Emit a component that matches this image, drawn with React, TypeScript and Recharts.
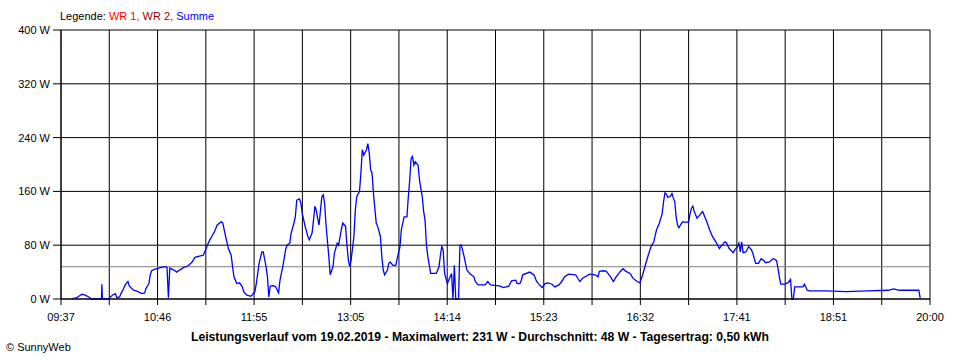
import React from 'react';
import { LineChart, Line, XAxis, YAxis, CartesianGrid, ReferenceLine } from 'recharts';

const times: string[] = [
  '09:45','09:47','09:49','09:52','09:54','09:57','09:59','10:06','10:06:20','10:06:40','10:11','10:12','10:14','10:16','10:17','10:19','10:20','10:22','10:23','10:25',
  '10:26','10:29','10:31','10:35','10:37','10:38','10:40','10:41','10:42','10:44','10:47','10:49','10:52','10:53','10:54','10:55','10:58','11:00','11:02','11:05',
  '11:08','11:11','11:13','11:17','11:19','11:21','11:23','11:25','11:27','11:29','11:32','11:33','11:35','11:37','11:39','11:40','11:41','11:43','11:45','11:47',
  '11:48','11:50','11:53','11:54','11:56','11:57','11:59','12:01','12:02','12:04','12:05','12:06','12:07','12:09','12:11','12:13','12:14','12:16','12:18','12:19',
  '12:21','12:22','12:24','12:25','12:26','12:28','12:29','12:30','12:32','12:34','12:35','12:37','12:38','12:39','12:40','12:41','12:42','12:44','12:45','12:46',
  '12:47','12:49','12:50','12:52','12:53','12:55','12:56','12:58','12:59','13:01','13:02','13:03','13:04','13:05','13:07','13:08','13:09','13:11','13:12','13:13',
  '13:14','13:16','13:17','13:18','13:19','13:20','13:21','13:23','13:24','13:26','13:27','13:28','13:29','13:31','13:32','13:33','13:35','13:37','13:38','13:40',
  '13:41','13:43','13:45','13:46','13:47','13:48','13:49','13:50','13:51','13:53','13:54','13:56','13:57','13:58','13:59','14:00','14:02','14:06','14:08','14:09',
  '14:10','14:11','14:12','14:14','14:16','14:17','14:18','14:19','14:20','14:22','14:23','14:24','14:26','14:28','14:30','14:33','14:34','14:36','14:41','14:43',
  '14:45','14:52','14:54','14:58','14:59','15:00','15:03','15:04','15:06','15:07','15:08','15:13','15:16','15:18','15:20','15:22','15:24','15:26','15:29','15:31',
  '15:34','15:36','15:38','15:41','15:46','15:48','15:49','15:51','15:56','16:00','16:02','16:03','16:06','16:08','16:11','16:13','16:15','16:18','16:20','16:22',
  '16:25','16:27','16:30','16:32','16:34','16:36','16:38','16:40','16:42','16:43','16:44','16:46','16:48','16:49','16:50','16:51','16:52','16:54','16:55','16:56',
  '16:57','16:58','16:59','17:00','17:02','17:03','17:05','17:07','17:08','17:09','17:10','17:11','17:13','17:15','17:17','17:18','17:20','17:22','17:24','17:27',
  '17:29','17:30','17:33','17:34','17:36','17:39','17:40','17:42','17:43','17:44','17:45','17:46','17:48','17:50','17:52','17:53','17:55','17:57','17:59','18:01',
  '18:02','18:05','18:07','18:08','18:10','18:11','18:12','18:13','18:16','18:18','18:20','18:21','18:22','18:23','18:29','18:30','18:32','18:34','18:45','19:00',
  '19:15','19:30','19:34','19:38','19:52','19:53',
];

const watts: number[] = [
  1,1,3,7,6,3,0,0,22,0,0,2,6,8,2,3,8,16,21,26,
  19,13,12,8,9,16,23,36,42,44,46,47,48,47,2,46,43,40,43,47,
  49,55,62,64,65,75,85,93,100,110,115,113,93,75,65,48,33,23,24,18,
  11,6,4,6,11,23,53,70,70,48,33,3,19,20,18,9,28,48,73,80,
  83,98,113,122,147,149,142,127,108,93,88,98,117,138,132,120,110,152,155,142,
  110,63,36,48,68,83,80,103,113,108,80,58,48,58,93,132,152,160,187,222,
  214,222,231,217,192,187,157,113,108,93,63,43,36,43,53,55,50,50,60,78,
  103,122,122,152,177,209,212,199,204,199,177,152,130,117,80,63,38,38,48,65,
  78,73,38,23,33,38,0,50,0,0,80,80,63,43,38,33,26,21,21,26,
  21,19,17,19,23,27,28,23,23,28,36,40,36,26,21,17,23,24,22,18,
  21,26,33,37,36,29,26,31,37,36,33,41,42,41,33,26,33,41,45,41,
  38,31,26,24,36,51,65,78,85,95,103,113,127,145,158,156,151,153,157,150,
  145,122,110,106,113,115,114,115,127,135,138,130,120,125,130,125,115,103,93,83,
  75,78,85,84,75,69,73,78,83,70,85,69,70,78,73,68,53,53,60,57,
  54,55,59,60,57,46,33,22,22,24,29,0,0,18,18,22,13,12,12,11,
  12,13,15,13,13,1,
];

const yTicks: number[] = [0, 80, 160, 240, 320, 400];
const tickLabels: string[] = ['09:37', '', '10:46', '', '11:55', '', '13:05', '', '14:14', '', '15:23', '', '16:32', '', '17:41', '', '18:51', '', '20:00'];
const averageW = 48;
const startLabel = '09:37';
const endLabel = '20:00';

const legendParts: { text: string; color: string }[] = [
  { text: 'Legende: ', color: '#000000' },
  { text: 'WR 1, ', color: '#ff0000' },
  { text: 'WR 2, ', color: '#9b0000' },
  { text: 'Summe', color: '#0000ff' },
];
const titleText = 'Leistungsverlauf vom 19.02.2019 - Maximalwert: 231 W - Durchschnitt: 48 W - Tagesertrag: 0,50 kWh';
const copyrightText = '\u00A9 SunnyWeb';

const toMin = (s: string): number => {
  const p = s.split(':').map(Number);
  return p[0] * 60 + p[1] + (p[2] ? p[2] / 60 : 0);
};

const data = times.map((t, i) => ({ t: toMin(t), w: watts[i] }));
const tMin = toMin(startLabel);
const tMax = toMin(endLabel);
const xTicks = tickLabels.map((_, i) => tMin + (i * (tMax - tMin)) / (tickLabels.length - 1));

const FONT = '"Liberation Sans", Arial, sans-serif';

export default function App() {
  return (
    <div style={{ position: 'absolute', left: 0, top: 0, width: 960, height: 360, background: '#fff' }}>
      <LineChart width={960} height={360} data={data} margin={{ top: 30, right: 30, bottom: 0, left: 0 }}>
        <CartesianGrid stroke="#000" strokeWidth={1} />
        <XAxis
          type="number"
          dataKey="t"
          domain={[tMin, tMax]}
          ticks={xTicks}
          interval={0}
          height={61}
          tickSize={6}
          tickMargin={8}
          axisLine={{ stroke: '#000' }}
          tickLine={{ stroke: '#000' }}
          tick={{ fill: '#000', fontSize: 11, fontFamily: FONT }}
          tickFormatter={(v: number) => {
            const idx = xTicks.findIndex((x) => Math.abs(x - v) < 0.01);
            return idx >= 0 ? tickLabels[idx] : '';
          }}
          allowDataOverflow
        />
        <YAxis
          type="number"
          domain={[0, 400]}
          ticks={yTicks}
          width={61}
          tickSize={8}
          tickMargin={3}
          axisLine={{ stroke: '#000' }}
          tickLine={{ stroke: '#000' }}
          tick={{ fill: '#000', fontSize: 11, fontFamily: FONT }}
          tickFormatter={(v: number) => `${v} W`}
        />
        <ReferenceLine y={averageW} stroke="#808080" strokeWidth={1} ifOverflow="extendDomain" />
        <Line type="linear" dataKey="w" stroke="#0000ff" strokeWidth={1.3} dot={false} isAnimationActive={false} />
      </LineChart>
      <svg width={960} height={360} style={{ position: 'absolute', left: 0, top: 0, pointerEvents: 'none' }}>
        <text x={60} y={20} fontSize={11} fontFamily={FONT}>
          {legendParts.map((p, i) => (
            <tspan key={i} fill={p.color}>{p.text}</tspan>
          ))}
        </text>
        <text x={480} y={341} textAnchor="middle" fontSize={12.5} fontWeight="bold" fontFamily={FONT} fill="#000" textLength={578} lengthAdjust="spacingAndGlyphs">
          {titleText}
        </text>
        <text x={6} y={351} fontSize={11} fontFamily={FONT} fill="#000">
          {copyrightText}
        </text>
      </svg>
    </div>
  );
}
